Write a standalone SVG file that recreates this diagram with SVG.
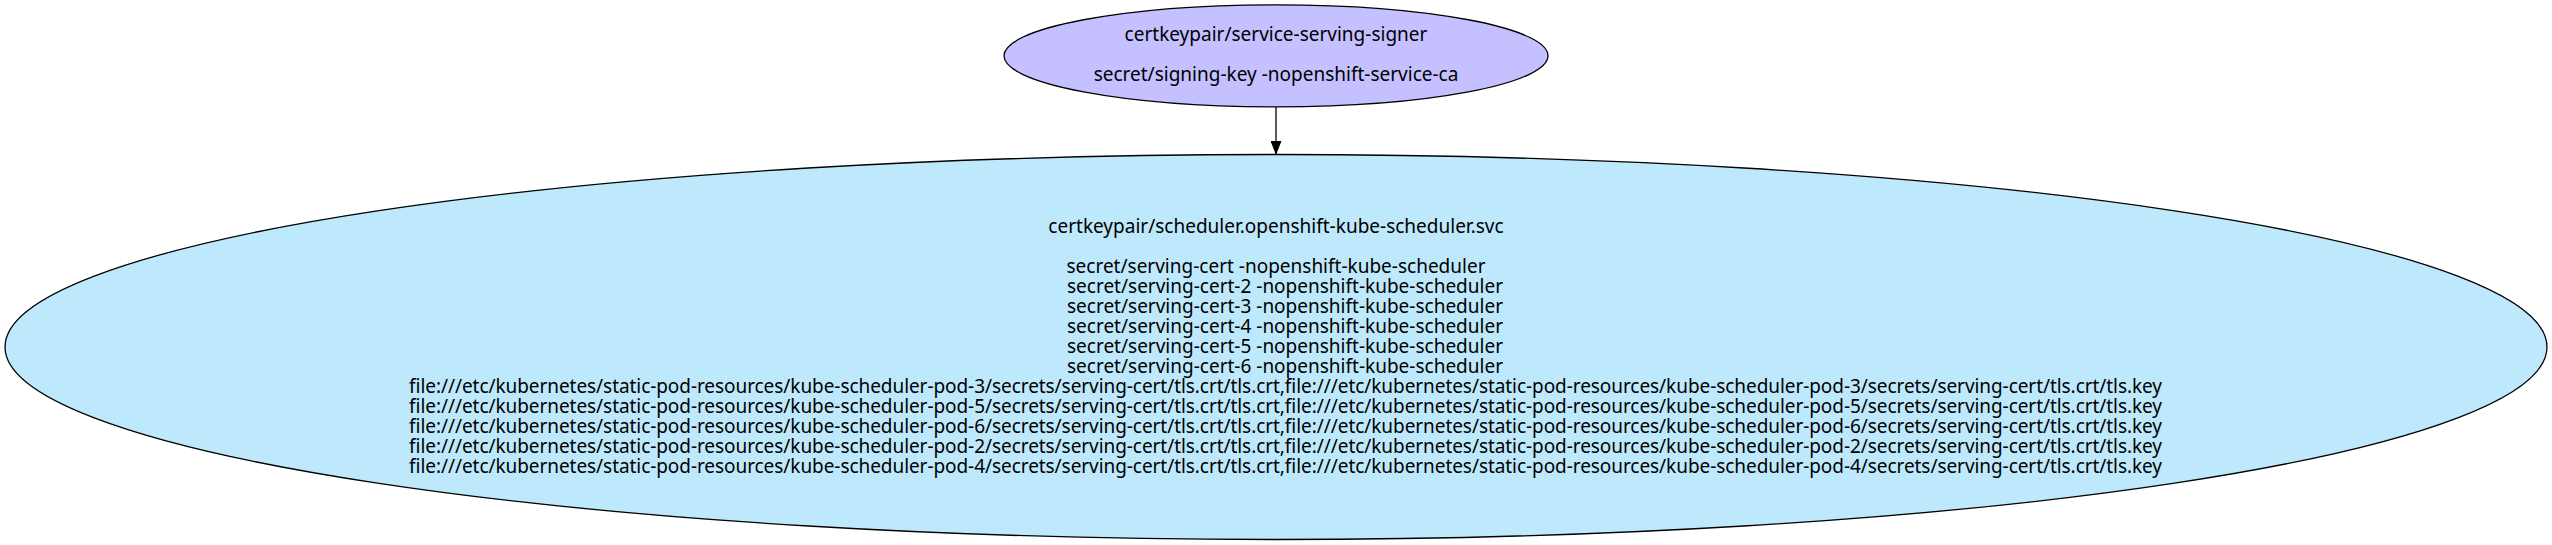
<svg xmlns="http://www.w3.org/2000/svg" width="2552" height="545" viewBox="0 0 2552 545">
<defs>
<style>
.lbl{font-family:"Noto Sans","Open Sans","DejaVu Sans",sans-serif;font-size:19px;fill:#000;text-anchor:middle}
.node{stroke:#000;stroke-width:1.3}
.edge{stroke:#000;stroke-width:1.3;fill:none}
</style>
<marker id="arrow" markerUnits="userSpaceOnUse" viewBox="0 0 14 11" refX="14" refY="5.5" markerWidth="14" markerHeight="11" orient="auto">
<path d="M0,0 L14,5.5 L0,11 Z" fill="#000"/>
</marker>
</defs>
<rect width="2552" height="545" fill="#fff"/>
<g id="edges">
<line class="edge" x1="1276" y1="107" x2="1276" y2="155" marker-end="url(#arrow)"/>
</g>
<g id="node-signer">
<ellipse class="node" cx="1276" cy="55.8" rx="272" ry="51" fill="#c5c0ff"/>
<text class="lbl" x="1276" y="40.7">certkeypair/service-serving-signer</text>
<text class="lbl" x="1276" y="81.2">secret/signing-key -nopenshift-service-ca</text>
</g>
<g id="node-scheduler">
<ellipse class="node" cx="1276" cy="347" rx="1271" ry="192.5" fill="#bee9fc"/>
<text class="lbl" x="1276" y="232.5">certkeypair/scheduler.openshift-kube-scheduler.svc</text>
<text class="lbl" x="1276" y="272.5">secret/serving-cert -nopenshift-kube-scheduler</text>
<text class="lbl" x="1285" y="292.5">secret/serving-cert-2 -nopenshift-kube-scheduler</text>
<text class="lbl" x="1285" y="312.5">secret/serving-cert-3 -nopenshift-kube-scheduler</text>
<text class="lbl" x="1285" y="332.5">secret/serving-cert-4 -nopenshift-kube-scheduler</text>
<text class="lbl" x="1285" y="352.5">secret/serving-cert-5 -nopenshift-kube-scheduler</text>
<text class="lbl" x="1285" y="372.5">secret/serving-cert-6 -nopenshift-kube-scheduler</text>
<text class="lbl" x="1285.5" y="392.5" textLength="1753" lengthAdjust="spacing">file:///etc/kubernetes/static-pod-resources/kube-scheduler-pod-3/secrets/serving-cert/tls.crt/tls.crt,file:///etc/kubernetes/static-pod-resources/kube-scheduler-pod-3/secrets/serving-cert/tls.crt/tls.key</text>
<text class="lbl" x="1285.5" y="412.5" textLength="1753" lengthAdjust="spacing">file:///etc/kubernetes/static-pod-resources/kube-scheduler-pod-5/secrets/serving-cert/tls.crt/tls.crt,file:///etc/kubernetes/static-pod-resources/kube-scheduler-pod-5/secrets/serving-cert/tls.crt/tls.key</text>
<text class="lbl" x="1285.5" y="432.5" textLength="1753" lengthAdjust="spacing">file:///etc/kubernetes/static-pod-resources/kube-scheduler-pod-6/secrets/serving-cert/tls.crt/tls.crt,file:///etc/kubernetes/static-pod-resources/kube-scheduler-pod-6/secrets/serving-cert/tls.crt/tls.key</text>
<text class="lbl" x="1285.5" y="452.5" textLength="1753" lengthAdjust="spacing">file:///etc/kubernetes/static-pod-resources/kube-scheduler-pod-2/secrets/serving-cert/tls.crt/tls.crt,file:///etc/kubernetes/static-pod-resources/kube-scheduler-pod-2/secrets/serving-cert/tls.crt/tls.key</text>
<text class="lbl" x="1285.5" y="472.5" textLength="1753" lengthAdjust="spacing">file:///etc/kubernetes/static-pod-resources/kube-scheduler-pod-4/secrets/serving-cert/tls.crt/tls.crt,file:///etc/kubernetes/static-pod-resources/kube-scheduler-pod-4/secrets/serving-cert/tls.crt/tls.key</text>
</g>
</svg>
